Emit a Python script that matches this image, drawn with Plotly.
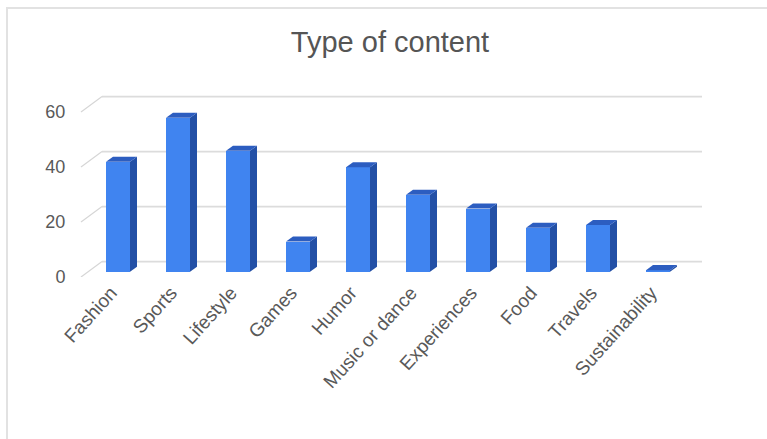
import plotly.graph_objects as go

categories = ["Fashion", "Sports", "Lifestyle", "Games", "Humor",
              "Music or dance", "Experiences", "Food", "Travels", "Sustainability"]
values = [40, 56, 44, 11, 38, 28, 23, 16, 17, 0.6]
y_ticks = [0, 20, 40, 60]
title_text = "Type of content"

# pseudo-3D geometry (data units)
DX, DY = 0.35, 5.6      # full floor depth vector
F0, F1 = 1 / 3, 2 / 3   # bar front / back depth fractions
BW = 0.4                # bar width
front_col, side_col, top_col = "#4084F0", "#2350A6", "#2C5DC0"
grid_col, diag_col = "#DCDCDC", "#D6D6D6"
text_col = "#595959"
FONT = "Liberation Sans, Arial, sans-serif"

fig = go.Figure()

n = len(categories)
xs = [i + DX * F0 for i in range(n)]
fig.add_trace(go.Bar(x=xs, y=values, base=DY * F0, width=BW,
                     marker=dict(color=front_col, line=dict(width=0)),
                     hoverinfo="skip", showlegend=False))

ddx, ddy = DX * (F1 - F0), DY * (F1 - F0)
for i, v in enumerate(values):
    xl = i - BW / 2 + DX * F0
    xr = i + BW / 2 + DX * F0
    yb = DY * F0
    yt = v + DY * F0
    fig.add_trace(go.Scatter(x=[xr, xr + ddx, xr + ddx, xr, xr],
                             y=[yb, yb + ddy, yt + ddy, yt, yb],
                             fill="toself", fillcolor=side_col, mode="lines",
                             line=dict(width=0, color=side_col),
                             hoverinfo="skip", showlegend=False))
    fig.add_trace(go.Scatter(x=[xl, xr, xr + ddx, xl + ddx, xl],
                             y=[yt, yt, yt + ddy, yt + ddy, yt],
                             fill="toself", fillcolor=top_col, mode="lines",
                             line=dict(width=0, color=top_col),
                             hoverinfo="skip", showlegend=False))

shapes = []
for v in y_ticks:
    shapes.append(dict(type="line", xref="x", yref="y", layer="below",
                       x0=-0.5 + DX, y0=v + DY, x1=n - 0.5 + DX, y1=v + DY,
                       line=dict(color=grid_col, width=1.6)))
    shapes.append(dict(type="line", xref="x", yref="y", layer="below",
                       x0=-0.5, y0=v, x1=-0.5 + DX, y1=v + DY,
                       line=dict(color=diag_col, width=1.2)))

# outer frame
shapes.append(dict(type="rect", xref="paper", yref="paper", layer="below",
                   x0=-0.1159, y0=-0.9, x1=1.1, y1=1.4385,
                   line=dict(color="#E2E2E2", width=2), fillcolor="rgba(0,0,0,0)"))

fig.update_layout(
    width=767, height=439,
    margin=dict(l=80, r=57, t=90, b=162, autoexpand=False),
    paper_bgcolor="white", plot_bgcolor="white",
    showlegend=False,
    shapes=shapes,
    title=dict(text=title_text, x=390 / 767, xref="container", xanchor="center",
               y=1 - 42 / 439, yref="container", yanchor="middle",
               font=dict(family=FONT, size=29, color="#555555")),
    font=dict(family=FONT, color=text_col),
    xaxis=dict(range=[-0.5 - 1 / 60, -0.5 + (710 - 81) / 60],
               tickmode="array", tickvals=list(range(n)), ticktext=categories,
               tickangle=-48, tickfont=dict(size=19, color=text_col),
               showgrid=False, zeroline=False, showline=False, ticks="",
               fixedrange=True),
    yaxis=dict(range=[0, 68], tickmode="array", tickvals=y_ticks,
               tickfont=dict(size=18, color=text_col),
               ticks="outside", ticklen=10, tickcolor="rgba(0,0,0,0)",
               showgrid=False, zeroline=False, showline=False,
               fixedrange=True),
    bargap=0,
)

fig.write_html("out.html")
